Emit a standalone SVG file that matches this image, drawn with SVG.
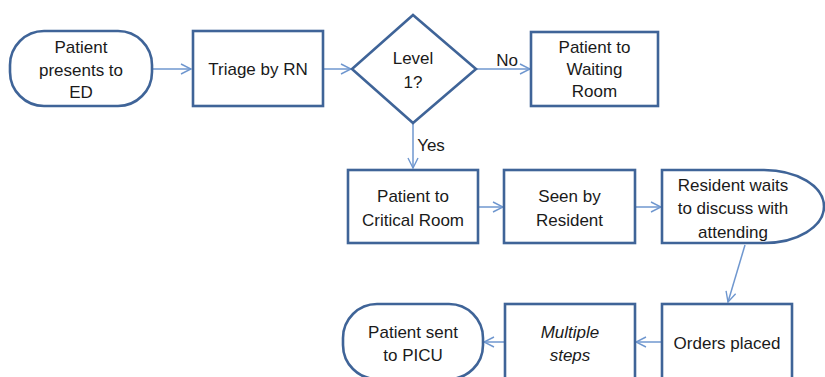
<svg xmlns="http://www.w3.org/2000/svg" width="825" height="377" viewBox="0 0 825 377">
  <defs>
    <marker id="arrow" viewBox="0 0 12 12" refX="11" refY="6" markerWidth="12" markerHeight="12" markerUnits="userSpaceOnUse" orient="auto">
      <path d="M1,1 L11,6 L1,11" fill="none" stroke="#6f97cf" stroke-width="1.4"/>
    </marker>
  </defs>
  <style>
    .shape { fill: #ffffff; stroke: #3f6498; stroke-width: 2.6; }
    .edge { fill: none; stroke: #6f97cf; stroke-width: 1.5; marker-end: url(#arrow); }
    text { font-family: "Liberation Sans", Arial, sans-serif; font-size: 17px; fill: #1a1a1a; text-anchor: middle; }
    .it { font-style: italic; }
  </style>
  <rect width="825" height="377" fill="#ffffff"/>

  <g id="connectors">
    <line class="edge" x1="152" y1="69" x2="191" y2="69"/>
    <line class="edge" x1="323" y1="69" x2="351" y2="69"/>
    <line class="edge" x1="476" y1="69" x2="530" y2="69"/>
    <line class="edge" x1="413" y1="123" x2="413" y2="168"/>
    <line class="edge" x1="478" y1="207" x2="503" y2="207"/>
    <line class="edge" x1="635" y1="207" x2="661" y2="207"/>
    <line class="edge" x1="745" y1="245" x2="728" y2="302"/>
    <line class="edge" x1="662" y1="342" x2="636" y2="342"/>
    <line class="edge" x1="505" y1="342" x2="484" y2="342"/>
    <text x="507" y="66">No</text>
    <text x="431" y="151">Yes</text>
  </g>

  <g id="start">
    <rect class="shape" x="10" y="31" width="142" height="75" rx="34" ry="34"/>
    <text x="81" y="53">Patient</text>
    <text x="81" y="76">presents to</text>
    <text x="81" y="98">ED</text>
  </g>

  <g id="triage">
    <rect class="shape" x="193" y="31" width="130" height="75"/>
    <text x="258" y="75">Triage by RN</text>
  </g>

  <g id="level1">
    <polygon class="shape" points="413,15 476,69 413,123 352,69"/>
    <text x="413" y="64">Level</text>
    <text x="413" y="88">1?</text>
  </g>

  <g id="waiting">
    <rect class="shape" x="531" y="32" width="127" height="74"/>
    <text x="594.5" y="53">Patient to</text>
    <text x="594.5" y="75">Waiting</text>
    <text x="594.5" y="97">Room</text>
  </g>

  <g id="critical">
    <rect class="shape" x="348" y="170" width="130" height="73"/>
    <text x="413" y="202">Patient to</text>
    <text x="413" y="226">Critical Room</text>
  </g>

  <g id="resident">
    <rect class="shape" x="504" y="170" width="131" height="73"/>
    <text x="569.5" y="202">Seen by</text>
    <text x="569.5" y="226">Resident</text>
  </g>

  <g id="waits">
    <path class="shape" d="M662,170 H764 A60,36.5 0 0 1 764,243 H662 Z"/>
    <text x="733" y="191">Resident waits</text>
    <text x="733" y="214">to discuss with</text>
    <text x="733" y="238">attending</text>
  </g>

  <g id="orders">
    <rect class="shape" x="662" y="304" width="130" height="75"/>
    <text x="727" y="349">Orders placed</text>
  </g>

  <g id="steps">
    <rect class="shape" x="505" y="304" width="130" height="75"/>
    <text class="it" x="570" y="338">Multiple</text>
    <text class="it" x="570" y="361">steps</text>
  </g>

  <g id="picu">
    <rect class="shape" x="343" y="304" width="140" height="75" rx="34" ry="34"/>
    <text x="413" y="338">Patient sent</text>
    <text x="413" y="361">to PICU</text>
  </g>
</svg>
